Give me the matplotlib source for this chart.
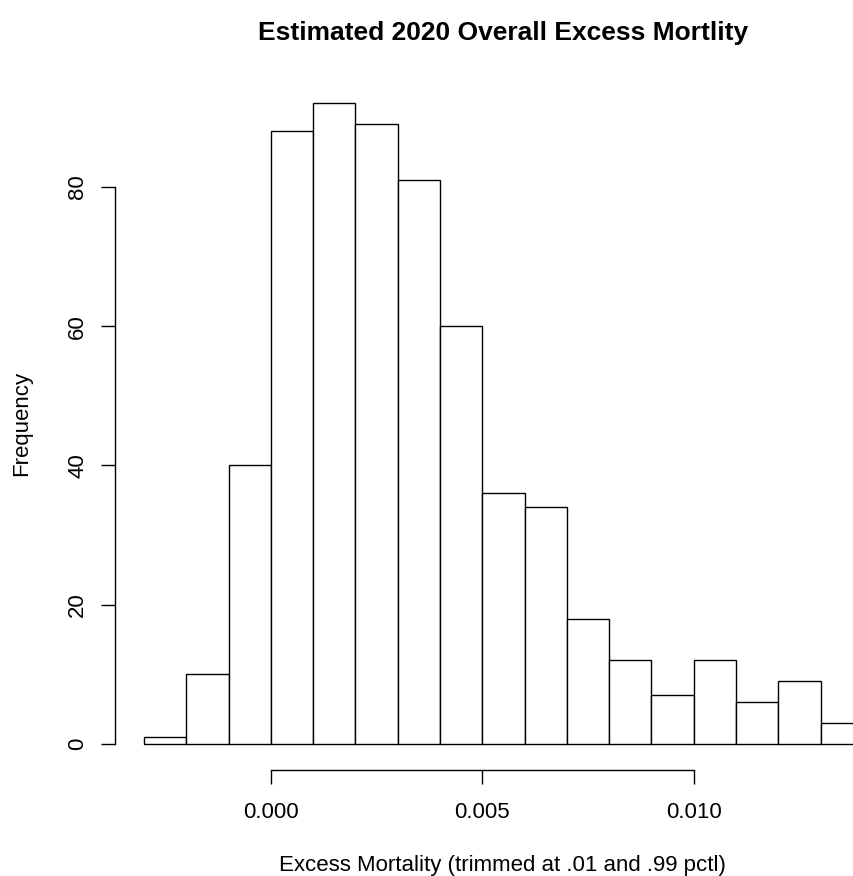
import numpy as np
import matplotlib
matplotlib.use("Agg")
import matplotlib.pyplot as plt

plt.rcParams['font.family'] = ['Liberation Sans', 'DejaVu Sans']

# histogram bins (width 0.001) and counts
bin_edges = np.round(np.arange(-0.003, 0.0145, 0.001), 4)
counts = [1, 10, 40, 88, 92, 89, 81, 60, 36, 34, 18, 12, 7, 12, 6, 9, 3]
x_ticks = [0.0, 0.005, 0.010]
x_tick_labels = ["0.000", "0.005", "0.010"]
y_ticks = [0, 20, 40, 60, 80]

W, H = 854, 876
fig = plt.figure(figsize=(W / 100, H / 100), dpi=100)

# R-style plot region: ranges extended by 4%
xmin, xmax = bin_edges[0], bin_edges[-1]
xr = xmax - xmin
ymax = max(counts)
x0, x1 = xmin - 0.04 * xr, xmax + 0.04 * xr
y0, y1 = -0.04 * ymax, ymax * 1.04

left_px, right_px = 115.3, 891.6
bottom_px, top_px = 769.6, 77.8
ax = fig.add_axes([left_px / W, 1 - bottom_px / H,
                   (right_px - left_px) / W, (bottom_px - top_px) / H])

ax.hist(bin_edges[:-1], bins=bin_edges, weights=counts,
        facecolor='white', edgecolor='black', linewidth=1.0)
ax.set_xlim(x0, x1)
ax.set_ylim(y0, y1)

for s in ['top', 'right']:
    ax.spines[s].set_visible(False)
ax.spines['left'].set_bounds(0, 80)
ax.spines['bottom'].set_bounds(0.0, 0.010)
ax.spines['left'].set_linewidth(1.0)
ax.spines['bottom'].set_linewidth(1.0)

ax.set_xticks(x_ticks)
ax.set_xticklabels(x_tick_labels)
ax.set_yticks(y_ticks)
ax.set_yticklabels([str(v) for v in y_ticks], rotation=90, va='center')
ax.tick_params(axis='both', direction='out', length=10, width=1.0,
               labelsize=16)
ax.tick_params(axis='x', pad=13)
ax.tick_params(axis='y', pad=9.5)

fig.text(22 / W, 1 - 423 / H, "Frequency", rotation=90,
         ha='center', va='center', fontsize=16)
fig.text(502 / W, 1 - 866 / H, "Excess Mortality (trimmed at .01 and .99 pctl)",
         ha='center', va='center', fontsize=16)
fig.text(503 / W, 1 - 33 / H, "Estimated 2020 Overall Excess Mortlity",
         ha='center', va='center', fontsize=19, fontweight='bold')

fig.savefig("out.png", dpi=100)
